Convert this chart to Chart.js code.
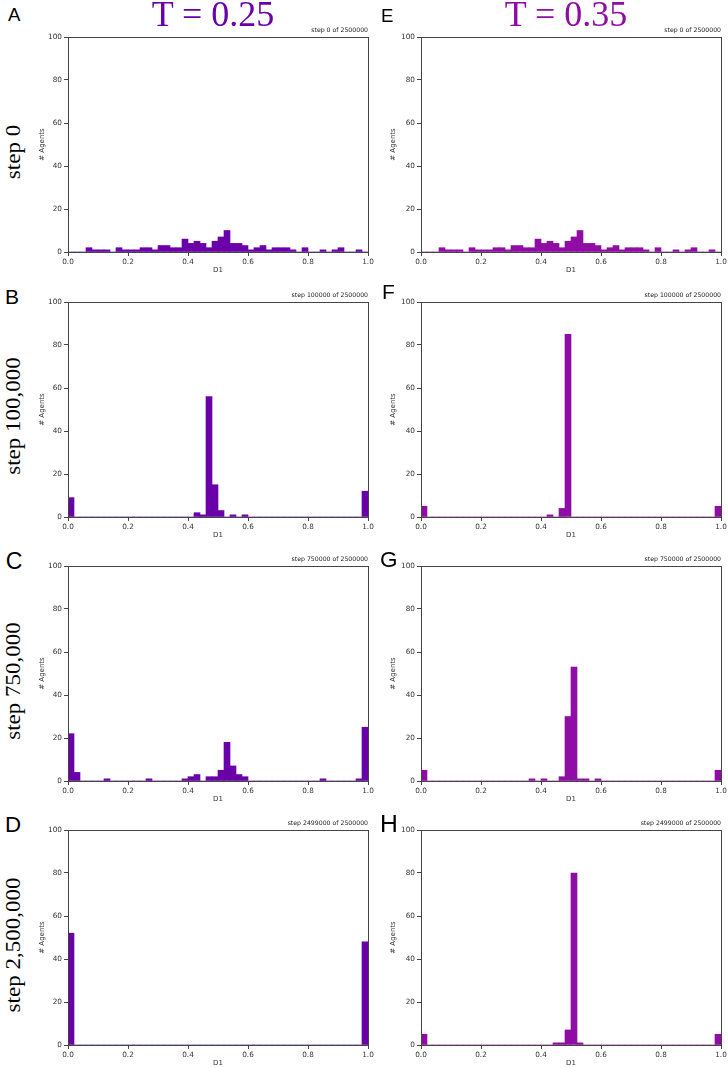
<!DOCTYPE html>
<html>
<head>
<meta charset="utf-8">
<title>D1 histograms</title>
<script src="https://cdn.jsdelivr.net/npm/chart.js@4.4.1/dist/chart.umd.min.js"></script>
<style>
  html, body { margin: 0; padding: 0; background: #fff; }
  body { width: 728px; height: 1068px; position: relative; overflow: hidden; }
  canvas { position: absolute; }
  .col-title {
    position: absolute; top: -4px;
    font-family: "Liberation Serif", "DejaVu Serif", serif;
    font-size: 36px; line-height: 36px; white-space: nowrap;
    transform: translateX(-50%);
  }
  .letter {
    position: absolute; color: #000;
    font-family: "Liberation Sans", Arial, sans-serif; line-height: 1;
  }
  .row-label {
    position: absolute; color: #000;
    font-family: "Liberation Serif", "DejaVu Serif", serif;
    font-size: 20px; line-height: 20px; white-space: nowrap;
    transform: translate(-50%, -50%) rotate(-90deg) scaleX(1.15);
  }
</style>
</head>
<body>
<script>
// ---------------------------------------------------------------------------
// Data: 50 bins of width 0.02 on D1, counts of agents per bin
// ---------------------------------------------------------------------------
const BIN_CENTERS = [
  0.01, 0.03, 0.05, 0.07, 0.09, 0.11, 0.13, 0.15, 0.17, 0.19,
  0.21, 0.23, 0.25, 0.27, 0.29, 0.31, 0.33, 0.35, 0.37, 0.39,
  0.41, 0.43, 0.45, 0.47, 0.49, 0.51, 0.53, 0.55, 0.57, 0.59,
  0.61, 0.63, 0.65, 0.67, 0.69, 0.71, 0.73, 0.75, 0.77, 0.79,
  0.81, 0.83, 0.85, 0.87, 0.89, 0.91, 0.93, 0.95, 0.97, 0.99,
];

const X_TICKS = [0.0, 0.2, 0.4, 0.6, 0.8, 1.0];
const Y_TICKS = [0, 20, 40, 60, 80, 100];

const TEMPERATURES = ["T = 0.25", "T = 0.35"];
const ROW_LABELS = ["step 0", "step 100,000", "step 750,000", "step 2,500,000"];
const STEP_TITLES = [
  "step 0 of 2500000",
  "step 100000 of 2500000",
  "step 750000 of 2500000",
  "step 2499000 of 2500000",
];

// T = 0.25 column
const countsA = [
  0, 0, 0, 2, 1, 1, 1, 0, 2, 1,
  1, 1, 2, 2, 1, 3, 3, 2, 2, 6,
  4, 5, 4, 2, 5, 7, 10, 4, 4, 3,
  1, 2, 3, 1, 2, 2, 2, 1, 0, 2,
  0, 0, 1, 0, 1, 2, 0, 0, 1, 0,
];
const countsB = [
  9, 0, 0, 0, 0, 0, 0, 0, 0, 0,
  0, 0, 0, 0, 0, 0, 0, 0, 0, 0,
  0, 2, 1, 56, 15, 3, 0, 1, 0, 1,
  0, 0, 0, 0, 0, 0, 0, 0, 0, 0,
  0, 0, 0, 0, 0, 0, 0, 0, 0, 12,
];
const countsC = [
  22, 4, 0, 0, 0, 0, 1, 0, 0, 0,
  0, 0, 0, 1, 0, 0, 0, 0, 0, 1,
  2, 3, 0, 2, 2, 5, 18, 7, 3, 2,
  0, 0, 0, 0, 0, 0, 0, 0, 0, 0,
  0, 0, 1, 0, 0, 0, 0, 0, 1, 25,
];
const countsD = [
  52, 0, 0, 0, 0, 0, 0, 0, 0, 0,
  0, 0, 0, 0, 0, 0, 0, 0, 0, 0,
  0, 0, 0, 0, 0, 0, 0, 0, 0, 0,
  0, 0, 0, 0, 0, 0, 0, 0, 0, 0,
  0, 0, 0, 0, 0, 0, 0, 0, 0, 48,
];

// T = 0.35 column
const countsE = [
  0, 0, 0, 2, 1, 1, 1, 0, 2, 1,
  1, 1, 2, 2, 1, 3, 3, 2, 2, 6,
  4, 5, 4, 2, 5, 7, 10, 4, 4, 3,
  1, 2, 3, 1, 2, 2, 2, 1, 0, 2,
  0, 0, 1, 0, 1, 2, 0, 0, 1, 0,
];
const countsF = [
  5, 0, 0, 0, 0, 0, 0, 0, 0, 0,
  0, 0, 0, 0, 0, 0, 0, 0, 0, 0,
  0, 1, 0, 4, 85, 0, 0, 0, 0, 0,
  0, 0, 0, 0, 0, 0, 0, 0, 0, 0,
  0, 0, 0, 0, 0, 0, 0, 0, 0, 5,
];
const countsG = [
  5, 0, 0, 0, 0, 0, 0, 0, 0, 0,
  0, 0, 0, 0, 0, 0, 0, 0, 1, 0,
  1, 0, 0, 2, 30, 53, 1, 1, 0, 1,
  0, 0, 0, 0, 0, 0, 0, 0, 0, 0,
  0, 0, 0, 0, 0, 0, 0, 0, 0, 5,
];
const countsH = [
  5, 0, 0, 0, 0, 0, 0, 0, 0, 0,
  0, 0, 0, 0, 0, 0, 0, 0, 0, 0,
  0, 0, 1, 1, 7, 80, 1, 0, 0, 0,
  0, 0, 0, 0, 0, 0, 0, 0, 0, 0,
  0, 0, 0, 0, 0, 0, 0, 0, 0, 5,
];

// ---------------------------------------------------------------------------
// Layout / style
// ---------------------------------------------------------------------------
const COL_COLORS = ["#6a00a8", "#8f0da4"]; // plasma(0.25), plasma(0.35)
const COL_LEFT = [68, 421];               // plot-area left edge per column
const ROW_TOP = [37, 302, 566, 830];      // plot-area top edge per row
const PLOT_W = 300;
const PLOT_H = 215;
const AXIS_W = 40;     // room for y ticks + title, left of the plot
const TITLE_H = 12;    // room for the small step title, above the plot
const XAXIS_H = 30;    // room for x ticks + title, below the plot
const PAD_RIGHT = 14;

const TICK_FONT = { family: "DejaVu Sans", size: 7.3 };
const LABEL_FONT = { family: "DejaVu Sans", size: 7 };
const INK = "#333";
const SPINE = "#444";

const PANELS = [
  { letter: "A", col: 0, row: 0, counts: countsA, size: 18.6 },
  { letter: "B", col: 0, row: 1, counts: countsB, size: 21 },
  { letter: "C", col: 0, row: 2, counts: countsC, size: 23 },
  { letter: "D", col: 0, row: 3, counts: countsD, size: 22.3 },
  { letter: "E", col: 1, row: 0, counts: countsE, size: 18.6 },
  { letter: "F", col: 1, row: 1, counts: countsF, size: 21 },
  { letter: "G", col: 1, row: 2, counts: countsG, size: 22.5 },
  { letter: "H", col: 1, row: 3, counts: countsH, size: 24.7 },
];
const LETTER_POS = {
  A: [8, 5.9], B: [5, 285.6], C: [5.7, 550], D: [5, 814.4],
  E: [381, 6.9], F: [382, 280.6], G: [380, 549], H: [380, 811.8],
};
const Y_TITLE_PAD = [10, 8];
const COL_TITLE_X = [213, 566];
const ROW_LABEL_Y = [152, 416, 681, 945];

// Matplotlib-style closed box around the plot area
const frame = {
  id: "frame",
  afterDraw(chart) {
    const { ctx, chartArea: a } = chart;
    ctx.save();
    ctx.strokeStyle = SPINE;
    ctx.lineWidth = 1;
    ctx.strokeRect(a.left + 0.5, a.top + 0.5, a.right - a.left, a.bottom - a.top);
    ctx.restore();
  },
};

function addDiv(cls, text, style) {
  const d = document.createElement("div");
  d.className = cls;
  d.textContent = text;
  Object.assign(d.style, style);
  document.body.appendChild(d);
  return d;
}

function makePanel(p) {
  const w = AXIS_W + PLOT_W + PAD_RIGHT;
  const h = TITLE_H + PLOT_H + XAXIS_H;
  const canvas = document.createElement("canvas");
  canvas.width = w;
  canvas.height = h;
  canvas.style.width = w + "px";
  canvas.style.height = h + "px";
  canvas.style.left = (COL_LEFT[p.col] - AXIS_W) + "px";
  canvas.style.top = (ROW_TOP[p.row] - TITLE_H) + "px";
  document.body.appendChild(canvas);

  const points = BIN_CENTERS.map((x, i) => ({ x, y: p.counts[i] }));

  new Chart(canvas, {
    type: "bar",
    data: {
      datasets: [{
        data: points,
        backgroundColor: COL_COLORS[p.col],
        borderWidth: 0,
        barPercentage: 1,
        categoryPercentage: 1,
      }],
    },
    options: {
      responsive: false,
      animation: false,
      events: [],
      layout: { padding: { left: 0, right: PAD_RIGHT, top: 0, bottom: 0 } },
      plugins: {
        legend: { display: false },
        tooltip: { enabled: false },
        title: {
          display: true,
          text: STEP_TITLES[p.row],
          align: "end",
          fullSize: false,
          color: "#222",
          font: { family: "DejaVu Sans", size: 6.2, weight: "normal", lineHeight: "7px" },
          padding: { top: 2, bottom: 3 },
        },
      },
      scales: {
        x: {
          type: "linear",
          min: 0,
          max: 1,
          offset: false,
          afterFit: (s) => { s.height = XAXIS_H; },
          afterBuildTicks: (s) => { s.ticks = X_TICKS.map((v) => ({ value: v })); },
          ticks: {
            callback: (v) => Number(v).toFixed(1),
            color: INK, font: TICK_FONT, padding: 2,
            maxRotation: 0, autoSkip: false,
          },
          grid: { display: true, drawOnChartArea: false, drawTicks: true, tickLength: 4, color: SPINE, offset: false },
          border: { display: true, color: SPINE, width: 1 },
          title: { display: true, text: "D1", color: INK, font: LABEL_FONT, padding: { top: 0, bottom: 7.3 } },
        },
        y: {
          min: 0,
          max: 100,
          afterFit: (s) => { s.width = AXIS_W; },
          afterBuildTicks: (s) => { s.ticks = Y_TICKS.map((v) => ({ value: v })); },
          ticks: { color: INK, font: TICK_FONT, padding: 2 },
          grid: { display: true, drawOnChartArea: false, drawTicks: true, tickLength: 4, color: SPINE },
          border: { display: true, color: SPINE, width: 1 },
          title: { display: true, text: "# Agents", color: INK, font: LABEL_FONT, padding: { top: Y_TITLE_PAD[p.col], bottom: 0 } },
        },
      },
    },
    plugins: [frame],
  });

  const [lx, ly] = LETTER_POS[p.letter];
  addDiv("letter", p.letter, { left: lx + "px", top: ly + "px", fontSize: p.size + "px" });
}

PANELS.forEach(makePanel);

TEMPERATURES.forEach((t, i) => {
  addDiv("col-title", t, { left: COL_TITLE_X[i] + "px", color: COL_COLORS[i] });
});
ROW_LABELS.forEach((t, i) => {
  addDiv("row-label", t, { left: "13px", top: ROW_LABEL_Y[i] + "px" });
});
</script>
</body>
</html>
